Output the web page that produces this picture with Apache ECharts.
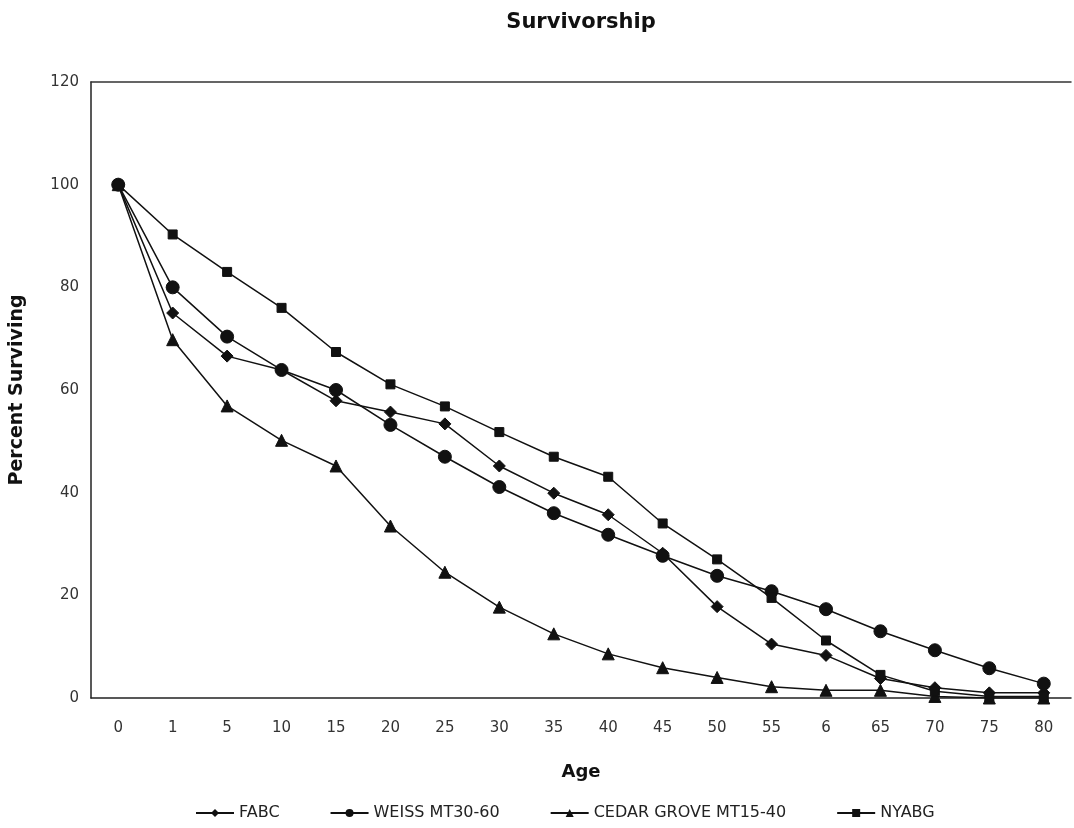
<!DOCTYPE html>
<html>
<head>
<meta charset="utf-8">
<script src="https://cdn.jsdelivr.net/npm/echarts@6/dist/echarts.min.js"></script>
<style>html,body{margin:0;padding:0;background:#fff}#chart{width:1074px;height:828px}</style>
</head>
<body>
<div id="chart"></div>
<script>
const categories = ['0','1','5','10','15','20','25','30','35','40','45','50','55','6','65','70','75','80'];
const fabc = [100, 75, 66.6, 63.9, 57.9, 55.7, 53.4, 45.2, 39.9, 35.7, 28.2, 17.8, 10.5, 8.3, 3.8, 2, 1, 1];
const weiss = [100, 80, 70.4, 63.9, 60, 53.2, 47, 41.1, 36, 31.8, 27.7, 23.8, 20.8, 17.3, 13, 9.3, 5.8, 2.8];
const cedar = [100, 69.8, 56.9, 50.2, 45.2, 33.5, 24.5, 17.7, 12.5, 8.6, 5.9, 4, 2.2, 1.5, 1.5, 0.3, 0, 0];
const nyabg = [100, 90.3, 83, 76, 67.4, 61.1, 56.8, 51.8, 47, 43.1, 34, 27, 19.5, 11.2, 4.5, 1.3, 0.3, 0.3];
const yTicks = [0, 20, 40, 60, 80, 100, 120];

const chart = echarts.init(document.getElementById('chart'));
const lineCol = '#111';
function mk(name, data, symbol, size) {
  return {
    name: name, type: 'line', data: data, symbol: symbol, symbolSize: size,
    lineStyle: { color: lineCol, width: 1.5 },
    itemStyle: { color: lineCol, borderColor: lineCol },
    emphasis: { disabled: true }, animation: false, z: 3
  };
}
chart.setOption({
  backgroundColor: '#fff',
  animation: false,
  title: {
    text: 'Survivorship', left: 576, top: 7, textAlign: 'center',
    textStyle: { fontFamily: 'DejaVu Sans', fontWeight: 'bold', fontSize: 21, color: '#111' }
  },
  legend: {
    bottom: 2, left: 190, itemWidth: 38, itemHeight: 10, itemGap: 50,
    textStyle: { fontFamily: 'DejaVu Sans', fontSize: 16, color: '#222' },
    data: ['FABC', 'WEISS MT30-60', 'CEDAR GROVE MT15-40', 'NYABG']
  },
  grid: { left: 90, right: 3, top: 82, bottom: 130 },
  xAxis: [{
    type: 'category', data: categories, boundaryGap: true,
    name: 'Age', nameLocation: 'middle', nameGap: 65,
    nameTextStyle: { fontFamily: 'DejaVu Sans', fontWeight: 'bold', fontSize: 18, color: '#111' },
    axisLine: { lineStyle: { color: '#222', width: 1.5 } },
    axisTick: { show: false },
    axisLabel: { margin: 23, fontFamily: 'DejaVu Sans', fontSize: 15, color: '#333', interval: 0 }
  }, {
    type: 'category', data: categories, position: 'top',
    axisLine: { lineStyle: { color: '#333', width: 1.5 } },
    axisTick: { show: false }, axisLabel: { show: false }
  }],
  yAxis: {
    type: 'value', min: yTicks[0], max: yTicks[yTicks.length - 1], interval: 20,
    name: 'Percent Surviving', nameLocation: 'middle', nameGap: 64, nameRotate: 90,
    nameTextStyle: { fontFamily: 'DejaVu Sans', fontWeight: 'bold', fontSize: 19, color: '#111' },
    axisLine: { show: true, lineStyle: { color: '#222', width: 1.5 } },
    axisTick: { show: false },
    splitLine: { show: false },
    axisLabel: { margin: 12, fontFamily: 'DejaVu Sans', fontSize: 15, color: '#333' }
  },
  series: [
    mk('FABC', fabc, 'diamond', 12),
    mk('WEISS MT30-60', weiss, 'circle', 13),
    mk('CEDAR GROVE MT15-40', cedar, 'triangle', 12),
    mk('NYABG', nyabg, 'rect', 9)
  ]
});
</script>
</body>
</html>
